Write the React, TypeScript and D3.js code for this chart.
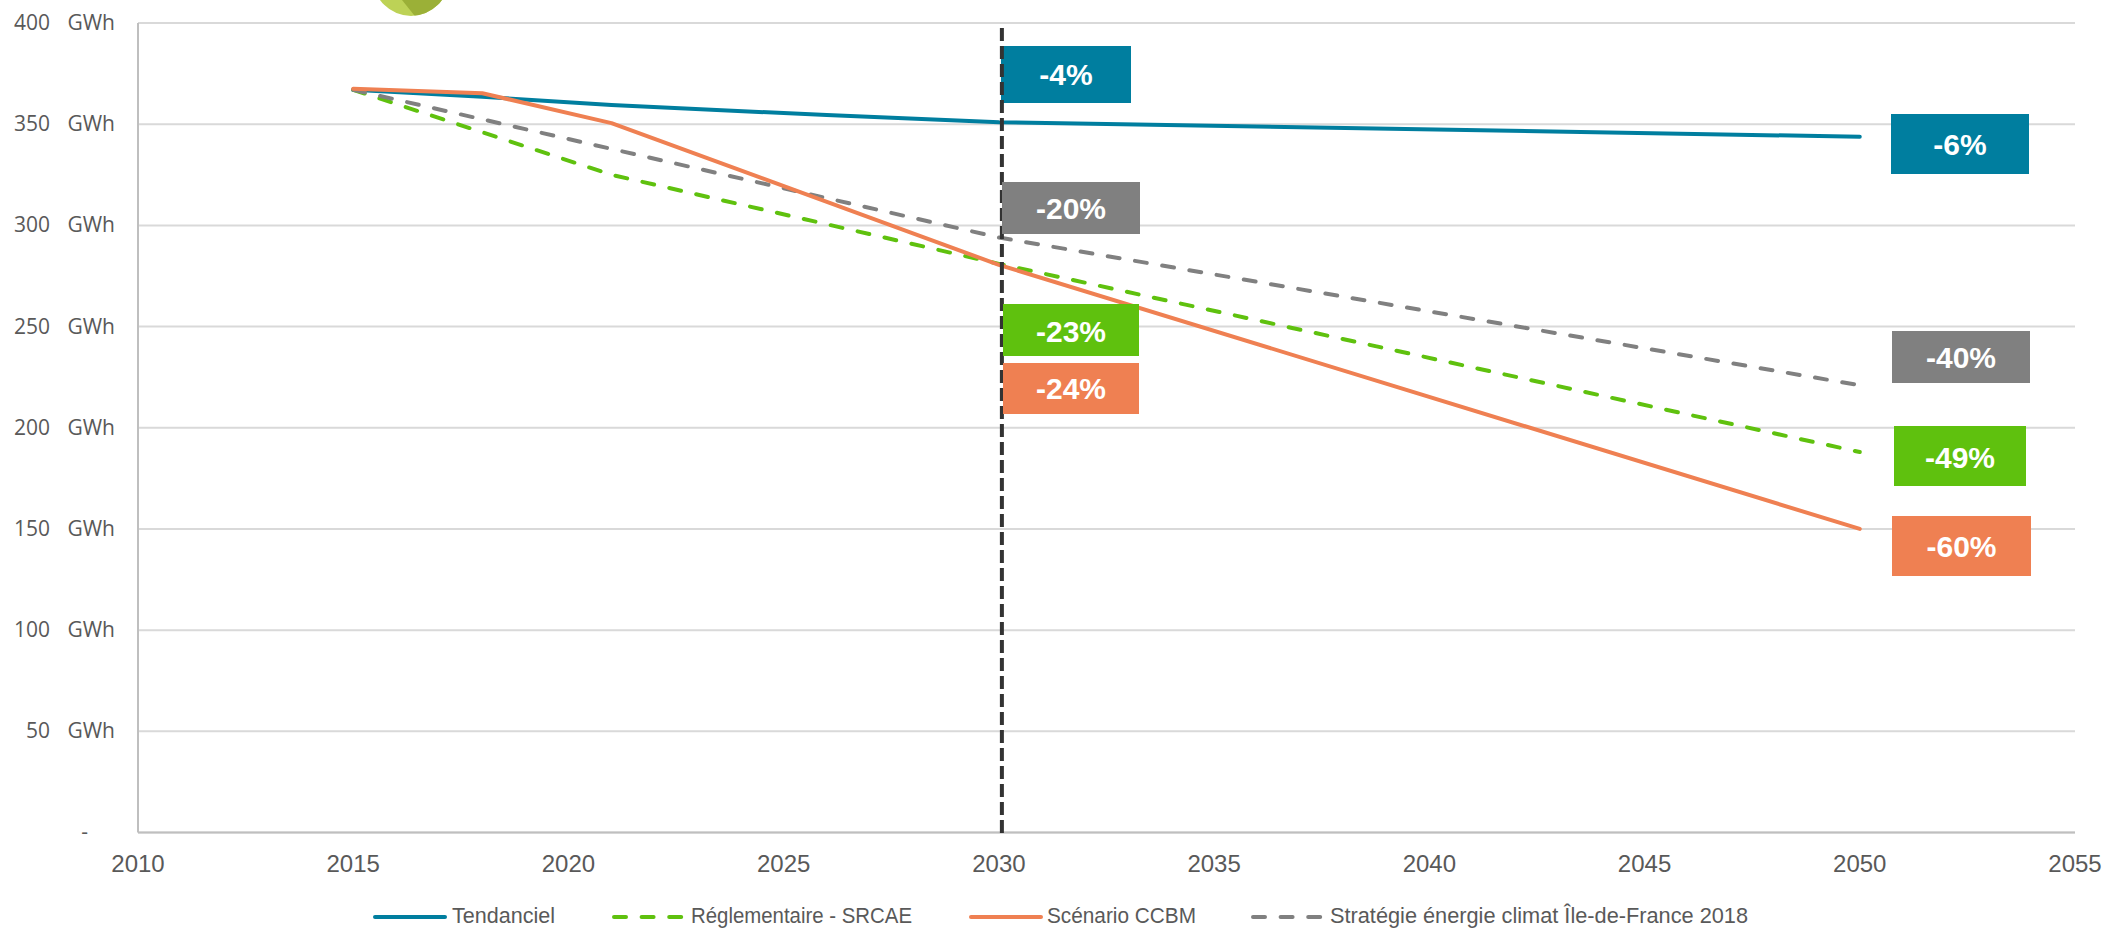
import React from "react";
import * as d3 from "d3";

const WIDTH = 2102;
const HEIGHT = 928;

const xTicks = [2010, 2015, 2020, 2025, 2030, 2035, 2040, 2045, 2050, 2055];
const yTicks = [0, 50, 100, 150, 200, 250, 300, 350, 400];

const tendancielYears = [2015, 2018, 2021, 2026, 2030, 2050];
const tendancielValues = [367, 363.5, 359.5, 354.5, 351, 343.8];
const srcaeYears = [2015, 2021, 2030, 2050];
const srcaeValues = [367, 325, 281, 188];
const ccbmYears = [2015, 2018, 2021, 2030, 2050];
const ccbmValues = [367.5, 365.3, 350.5, 280.5, 150];
const strategieYears = [2015, 2030, 2050];
const strategieValues = [367, 294, 221];

const seriesNames = [
  "Tendanciel",
  "Réglementaire - SRCAE",
  "Scénario CCBM",
  "Stratégie énergie climat Île-de-France 2018",
];
const BLUE = "#007e9f";
const GREEN = "#5fc10e";
const ORANGE = "#ef8052";
const GREY = "#808080";

// callout boxes, placed by hand in the original slide too
const calloutsBehind = [{ text: "-4%", fill: BLUE, x0: 1001, x1: 1131, y0: 46, y1: 103, dy: 10 }];
const callouts = [
  { text: "-20%", fill: GREY, x0: 1002, x1: 1140, y0: 182, y1: 234, dy: 11 },
  { text: "-23%", fill: GREEN, x0: 1003, x1: 1139, y0: 304, y1: 356, dy: 12 },
  { text: "-24%", fill: ORANGE, x0: 1003, x1: 1139, y0: 363, y1: 414, dy: 10.5 },
  { text: "-6%", fill: BLUE, x0: 1891, x1: 2029, y0: 114, y1: 174, dy: 11 },
  { text: "-40%", fill: GREY, x0: 1892, x1: 2030, y0: 331, y1: 383, dy: 11 },
  { text: "-49%", fill: GREEN, x0: 1894, x1: 2026, y0: 426, y1: 486, dy: 12 },
  { text: "-60%", fill: ORANGE, x0: 1892, x1: 2031, y0: 516, y1: 576, dy: 11 },
];

const legendItems = [
  { x0: 375, x1: 445, tx: 452, tw: 103, color: BLUE, dash: false },
  { x0: 614, x1: 685, tx: 691, tw: 221, color: GREEN, dash: true },
  { x0: 971, x1: 1041, tx: 1047, tw: 149, color: ORANGE, dash: false },
  { x0: 1253, x1: 1325, tx: 1330, tw: 418, color: GREY, dash: true },
];

const x = d3.scaleLinear().domain([2010, 2055]).range([138, 2075]);
const y = d3.scaleLinear().domain([0, 400]).range([832.5, 23]);

const toPath = (years: number[], values: number[]) =>
  d3
    .line<number>()
    .x((d) => x(d))
    .y((_, i) => y(values[i]))(years) as string;

const series = [
  { years: tendancielYears, values: tendancielValues, color: BLUE, dash: false },
  { years: srcaeYears, values: srcaeValues, color: GREEN, dash: true },
  { years: strategieYears, values: strategieValues, color: GREY, dash: true },
  { years: ccbmYears, values: ccbmValues, color: ORANGE, dash: false },
];

const labelFont = "'Open Sans', sans-serif";
const narrowFont = "'Liberation Sans Narrow', 'Liberation Sans', sans-serif";
const boxFont = "'Liberation Sans', Arial, sans-serif";

const Callout = ({ c }: { c: (typeof callouts)[number] }) => (
  <g>
    <rect x={c.x0} y={c.y0} width={c.x1 - c.x0} height={c.y1 - c.y0} fill={c.fill} />
    <text
      x={(c.x0 + c.x1) / 2}
      y={(c.y0 + c.y1) / 2 + c.dy}
      textAnchor="middle"
      fontFamily={boxFont}
      fontWeight="bold"
      fontSize={30}
      fill="#fff"
    >
      {c.text}
    </text>
  </g>
);

export default function App() {
  return (
    <svg
      width={WIDTH}
      height={HEIGHT}
      style={{ position: "absolute", left: 0, top: 0, display: "block", background: "#fff" }}
    >
      {/* logo clipped by the top edge */}
      <clipPath id="logo">
        <circle cx={411} cy={-22} r={38} />
      </clipPath>
      <g clipPath="url(#logo)">
        <rect x={365} y={0} width={90} height={20} fill="#bdd256" />
        <path d="M402 0 L418 20 L455 20 L455 0 Z" fill="#9bb037" />
      </g>

      {yTicks.map((t) => (
        <line key={t} x1={x(2010)} x2={x(2055)} y1={y(t)} y2={y(t)} stroke="#d9d9d9" strokeWidth={2} />
      ))}
      <line x1={x(2010)} x2={x(2010)} y1={y(400)} y2={y(0)} stroke="#bfbfbf" strokeWidth={2} />
      <line x1={x(2010)} x2={x(2055)} y1={y(0)} y2={y(0)} stroke="#bfbfbf" strokeWidth={2} />

      {yTicks.map((t) =>
        t === 0 ? (
          <text key={t} x={88} y={y(t) + 6} textAnchor="end" fontFamily={labelFont} fontSize={21} fill="#595959">
            -
          </text>
        ) : (
          <g key={t} fontFamily={labelFont} fontSize={21} fill="#595959" textAnchor="end">
            <text x={50} y={y(t) + 7}>
              {t}
            </text>
            <text x={115} y={y(t) + 7}>
              GWh
            </text>
          </g>
        )
      )}

      {xTicks.map((t) => (
        <text
          key={t}
          x={x(t)}
          y={872}
          textAnchor="middle"
          fontFamily={narrowFont}
          fontSize={24}
          fill="#595959"
        >
          {t}
        </text>
      ))}

      {series.map((s, i) => (
        <path
          key={i}
          d={toPath(s.years, s.values)}
          fill="none"
          stroke={s.color}
          strokeWidth={4}
          strokeLinecap="round"
          strokeLinejoin="round"
          strokeDasharray={s.dash ? "12 15.6" : undefined}
        />
      ))}

      {calloutsBehind.map((c) => (
        <Callout key={c.text} c={c} />
      ))}
      <line
        x1={x(2030) + 3}
        x2={x(2030) + 3}
        y1={28}
        y2={838}
        stroke="#333333"
        strokeWidth={4}
        strokeDasharray="13 5"
      />
      {callouts.map((c) => (
        <Callout key={c.text} c={c} />
      ))}

      {legendItems.map((l, i) => (
        <g key={i}>
          <line
            x1={l.x0}
            x2={l.x1}
            y1={917}
            y2={917}
            stroke={l.color}
            strokeWidth={4}
            strokeLinecap="round"
            strokeDasharray={l.dash ? "12 15.6" : undefined}
          />
          <text
            x={l.tx}
            y={923}
            fontFamily={narrowFont}
            fontSize={22}
            fill="#595959"
            textLength={l.tw}
            lengthAdjust="spacingAndGlyphs"
          >
            {seriesNames[i]}
          </text>
        </g>
      ))}
    </svg>
  );
}
